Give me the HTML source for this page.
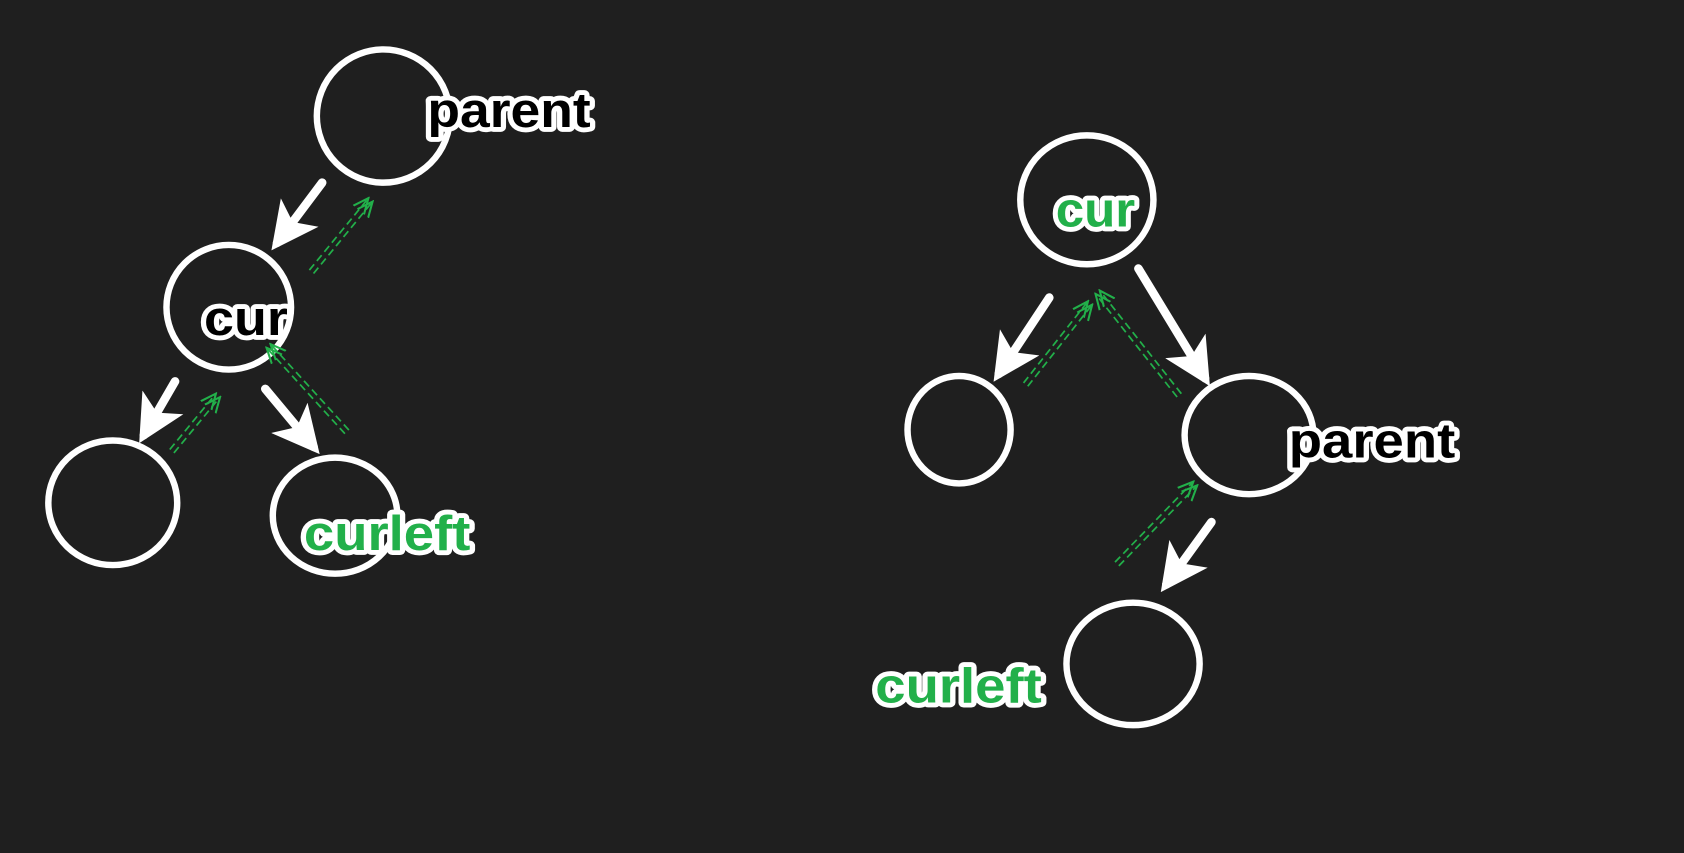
<!DOCTYPE html>
<html><head><meta charset="utf-8"><style>
html,body{margin:0;padding:0;background:#1f1f1f;width:1684px;height:853px;overflow:hidden}
svg{display:block}
text{font-family:"Liberation Sans",sans-serif;font-weight:bold;font-size:46px;paint-order:stroke;stroke:#fff;stroke-width:9px;stroke-linejoin:round}
</style></head><body>
<svg width="1684" height="853" viewBox="0 0 1568 794" preserveAspectRatio="none">
<defs>
<marker id="wh" viewBox="0 0 10 10" refX="8" refY="5" markerWidth="5.5" markerHeight="5.5" orient="auto" markerUnits="strokeWidth"><path d="M0,0 L10,5 L0,10 L2.5,5 z" fill="#fff"/></marker>
<marker id="gh" viewBox="0 0 10 10" refX="9" refY="5" markerWidth="10" markerHeight="10" orient="auto" markerUnits="strokeWidth"><path d="M0,1 L9,5 L0,9" fill="none" stroke="#22b04a" stroke-width="1.2"/></marker>
</defs>
<g id="g"></g>
</svg>
<script>
const nodes=[
 ['left-parent-node',357,108,62,62],['left-cur-node',213,286,58,58],['left-leaf-node',105,468,60,58],['left-curleft-node',312,480,58,54],
 ['right-cur-node',1012,186,62,60],['right-leaf-node',893,400,48,50],['right-parent-node',1163,405,60,55],['right-curleft-node',1055,618,62,57]];
const arrows=[['arrow-parent-cur-left',300,170,258,226],['arrow-cur-leaf-left',163,355,134,405],['arrow-cur-curleft-left',247,362,292,416],
 ['arrow-cur-leaf-right',977,277,930,348],['arrow-cur-parent-right',1060,250,1122,352],['arrow-parent-curleft-right',1128,486,1086,544]];
const greens=[['green-back-1',290,253,345,186],['green-back-2',160,420,203,368],['green-back-3',323,402,250,322],
 ['green-back-4',955,358,1015,282],['green-back-5',1098,368,1022,272],['green-back-6',1040,525,1113,450]];
const labels=[['label-parent-left','parent',398,118,152,'#000'],['label-cur-left','cur',190,312,78,'#000'],['label-curleft-left','curleft',283,512,155,'#22b04a'],
 ['label-cur-right','cur',983,211,74,'#22b04a'],['label-parent-right','parent',1200,426,155,'#000'],['label-curleft-right','curleft',815,654,155,'#22b04a']];
const g=document.getElementById('g'),NS='http://www.w3.org/2000/svg';
function mk(t,a){const e=document.createElementNS(NS,t);for(const k in a)e.setAttribute(k,a[k]);g.appendChild(e);return e;}
nodes.forEach(n=>{const e=mk('ellipse',{cx:n[1],cy:n[2],rx:n[3],ry:n[4],fill:'none',stroke:'#fff','stroke-width':6});

});
arrows.forEach(a=>{const e=mk('line',{x1:a[1],y1:a[2],x2:a[3],y2:a[4],stroke:'#fff','stroke-width':8,'stroke-linecap':'round','marker-end':'url(#wh)'});

});
greens.forEach(a=>{const dx=a[3]-a[1],dy=a[4]-a[2],L=Math.hypot(dx,dy),ox=-dy/L*2.5,oy=dx/L*2.5;
const gr=document.createElementNS(NS,'g');g.appendChild(gr);


[1,-1].forEach(s=>{const l=document.createElementNS(NS,'line');
const p={x1:a[1]+ox*s,y1:a[2]+oy*s,x2:a[3]+ox*s,y2:a[4]+oy*s,stroke:'#22b04a','stroke-width':1.6,'stroke-dasharray':'7 4','marker-end':'url(#gh)'};
for(const k in p)l.setAttribute(k,p[k]);gr.appendChild(l);});});
labels.forEach(t=>{const e=mk('text',{x:t[2],y:t[3],textLength:t[4],lengthAdjust:'spacingAndGlyphs',fill:t[5]});e.textContent=t[1];

});
</script>
</body></html>
